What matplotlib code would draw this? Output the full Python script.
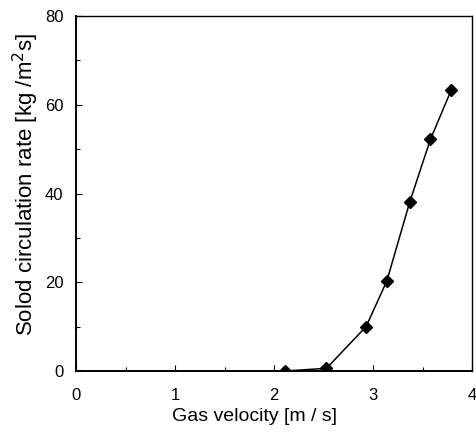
import numpy as np
import matplotlib
matplotlib.use("Agg")
import matplotlib.pyplot as plt
from matplotlib.ticker import MultipleLocator

plt.rcParams['font.family'] = ['Liberation Sans', 'DejaVu Sans']

# values
gas_velocity = [2.11, 2.53, 2.93, 3.14, 3.37, 3.58, 3.79]
circ_rate = [0.0, 0.6, 10.0, 20.3, 38.0, 52.2, 63.3]

fig = plt.figure(figsize=(4.76, 4.32), dpi=100)
ax = fig.add_axes([76/476, 1 - 371/432, (472-76)/476, (371-16)/432])

ax.plot(gas_velocity, circ_rate, color='black', lw=1.1,
        marker='D', markersize=6.5, markerfacecolor='black', markeredgecolor='black')

ax.set_xlim(0, 4)
ax.set_ylim(0, 80)
ax.xaxis.set_major_locator(MultipleLocator(1))
ax.xaxis.set_minor_locator(MultipleLocator(0.5))
ax.yaxis.set_major_locator(MultipleLocator(20))
ax.yaxis.set_minor_locator(MultipleLocator(10))
ax.tick_params(which='both', direction='in', labelsize=12)
ax.tick_params(axis='x', which='both', pad=12)
ax.tick_params(axis='y', which='both', pad=9)
ax.tick_params(which='major', length=4, width=0.8)
ax.tick_params(which='minor', length=3, width=0.8)

for side in ['left', 'bottom']:
    ax.spines[side].set_linewidth(1.4)
for side in ['top', 'right']:
    ax.spines[side].set_linewidth(1.0)

ax.set_xlabel('Gas velocity [m / s]', fontsize=14, va='top')
ax.xaxis.set_label_coords(0.45, -0.105)
ax.set_ylabel('Solod circulation rate [kg /m$^2$s]', fontsize=16)
ax.yaxis.set_label_coords(-0.088, 0.525)

fig.savefig('out.png', dpi=100)
